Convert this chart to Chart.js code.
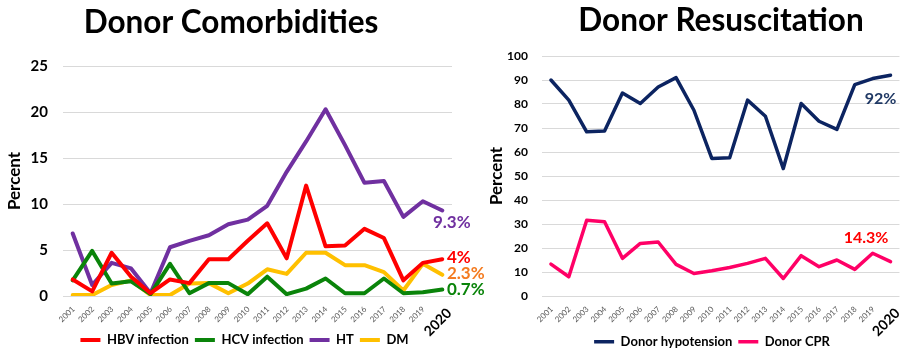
<!DOCTYPE html>
<html>
<head>
<meta charset="utf-8">
<script src="https://cdn.jsdelivr.net/npm/chart.js@4/dist/chart.umd.min.js"></script>
<style>
  html, body { margin: 0; padding: 0; background: #fff; }
  body { width: 912px; height: 350px; position: relative; overflow: hidden; }
  #comorb { position: absolute; left: 0; top: 0; }
  #resus { position: absolute; left: 470px; top: 0; }
</style>
</head>
<body>
<canvas id="comorb" width="495" height="350"></canvas>
<canvas id="resus" width="442" height="350"></canvas>
<script>
// Years on the horizontal axis (shared by both panels)
const years = ['2001','2002','2003','2004','2005','2006','2007','2008','2009','2010',
               '2011','2012','2013','2014','2015','2016','2017','2018','2019','2020'];

// Donor comorbidities, percent of donors per year
const hbvInfection = [1.8, 0.5, 4.7, 2.1, 0.3, 1.8, 1.4, 4.0, 4.0, 6.0, 7.9, 4.1, 12.0, 5.4, 5.5, 7.3, 6.3, 1.7, 3.6, 4];
const hcvInfection = [1.7, 4.9, 1.35, 1.6, 0.2, 3.5, 0.3, 1.4, 1.4, 0.2, 2.1, 0.2, 0.8, 1.9, 0.3, 0.3, 1.9, 0.3, 0.4, 0.7];
const hypertension = [6.8, 1.2, 3.6, 3.0, 0.3, 5.3, 6.0, 6.6, 7.8, 8.3, 9.8, 13.5, 16.8, 20.3, 16.4, 12.3, 12.5, 8.6, 10.3, 9.3];
const diabetes     = [0.1, 0.1, 1.2, 1.7, 0.1, 0.1, 1.35, 1.4, 0.3, 1.35, 2.9, 2.4, 4.7, 4.7, 3.35, 3.35, 2.6, 0.6, 3.5, 2.3];

// Donor resuscitation, percent of donors per year
const donorHypotension = [90, 81.6, 68.4, 68.8, 84.6, 80.2, 87.1, 91, 77.4, 57.3, 57.6, 81.6, 74.9, 53.1, 80.2, 72.8, 69.4, 88.1, 90.6, 92];
const donorCPR         = [13.3, 8.0, 31.6, 30.9, 15.7, 21.9, 22.5, 13.2, 9.4, 10.5, 11.9, 13.6, 15.7, 7.3, 16.8, 12.2, 15, 11.1, 17.8, 14.3];

// Axis tick settings
const comorbTicks = { min: 0, max: 25, step: 5 };
const resusTicks  = { min: 0, max: 100, step: 10 };

const FONT = 'Lato';
const LEGEND_SIZE = 13;

// Small helper plugin: panel heading, end-of-line value labels, legend placement
const panelExtras = {
  id: 'panelExtras',
  afterLayout(chart, args, opts) {
    const lg = chart.legend;
    if (!lg || opts.legendCenter == null) return;
    const dx = opts.legendCenter - (lg.left + lg.right) / 2;
    lg.left += dx; lg.right += dx;
    const pad = lg.options.labels.padding;
    const dy = opts.legendMiddle - (lg.top + pad + LEGEND_SIZE / 2);
    lg.top += dy;
    lg.bottom = chart.height;
  },
  afterDraw(chart, args, opts) {
    const ctx = chart.ctx;
    ctx.save();
    if (opts.heading) {
      ctx.font = `bold ${opts.heading.size}px ${FONT}`;
      ctx.fillStyle = '#000';
      ctx.textAlign = 'center';
      ctx.textBaseline = 'alphabetic';
      ctx.fillText(opts.heading.text, opts.heading.x, opts.heading.y);
    }
    (opts.endLabels || []).forEach(l => {
      const meta = chart.getDatasetMeta(l.ds);
      const data = chart.data.datasets[l.ds].data;
      const pt = meta.data[data.length - 1];
      ctx.font = `bold ${l.size}px ${FONT}`;
      ctx.fillStyle = l.color;
      ctx.textAlign = 'left';
      ctx.textBaseline = 'middle';
      ctx.fillText(data[data.length - 1] + '%', pt.x + l.dx, pt.y + l.dy);
    });
    ctx.restore();
  }
};

function xAxis() {
  const last = years.length - 1;
  const isLast = c => c.index === last;
  return {
    offset: true,
    grid: { display: false, drawTicks: false },
    border: { display: false },
    afterFit(scale) { scale.height = 44; },
    ticks: {
      autoSkip: false, minRotation: 45, maxRotation: 45, padding: 8.5, labelOffset: 0.7,
      // final year is emphasised: larger, bold, black
      font: c => isLast(c) ? { family: FONT, size: 14, weight: 'bold', lineHeight: 1.3 }
                           : { family: FONT, size: 8, lineHeight: 1.2 },
      color: c => isLast(c) ? '#000' : '#595959',
      // transparent backdrop keeps the larger label anchored at its tick
      showLabelBackdrop: c => isLast(c),
      backdropColor: 'rgba(0,0,0,0)',
      backdropPadding: 0
    }
  };
}

function yAxis(t, width, tickSize, tickPad, titlePad) {
  return {
    min: t.min, max: t.max,
    afterFit(scale) { scale.width = width; },
    grid: { color: '#d9d9d9', lineWidth: 1, drawTicks: false },
    border: { display: false },
    ticks: { stepSize: t.step, padding: tickPad, color: '#000', font: { family: FONT, size: tickSize, weight: 'bold' } },
    title: { display: true, text: 'Percent', color: '#000', padding: { top: titlePad, bottom: 0 },
             font: { family: FONT, size: 17, weight: 'bold' } }
  };
}

function legendOpts() {
  return {
    position: 'bottom',
    maxHeight: 10,
    labels: {
      usePointStyle: true, pointStyle: 'line', pointStyleWidth: 20,
      padding: 6, color: '#000',
      font: { family: FONT, size: LEGEND_SIZE, weight: 'bold' }
    }
  };
}

function line(label, data, color, width) {
  return {
    label, data,
    borderColor: color, backgroundColor: color,
    borderWidth: width, pointRadius: 0, pointHoverRadius: 0,
    tension: 0, borderJoinStyle: 'round', borderCapStyle: 'round', fill: false
  };
}

new Chart(document.getElementById('comorb'), {
  type: 'line',
  data: {
    labels: years,
    datasets: [
      line('HBV infection', hbvInfection, '#FF0000', 4),
      line('HCV infection', hcvInfection, '#0A840A', 4),
      line('HT', hypertension, '#7030A0', 4),
      line('DM', diabetes, '#FFC000', 4)
    ]
  },
  options: {
    responsive: false, animation: false,
    layout: { padding: { top: 66, right: 43, left: 0, bottom: 0 } },
    scales: { x: xAxis(), y: yAxis(comorbTicks, 63, 15, 15, 4) },
    plugins: {
      legend: legendOpts(),
      tooltip: { enabled: false },
      panelExtras: {
        legendCenter: 244.5, legendMiddle: 340,
        heading: { text: 'Donor Comorbidities', x: 231, y: 33, size: 31.5 },
        endLabels: [
          { ds: 2, dx: -9.3, dy: 12.3, color: '#7030A0', size: 17 },
          { ds: 0, dx: 4.7, dy: -1.7, color: '#FF0000', size: 17 },
          { ds: 3, dx: 4.7, dy: -1.3, color: '#F47B20', size: 17 },
          { ds: 1, dx: 4.7, dy: 0, color: '#0A840A', size: 17 }
        ]
      }
    }
  },
  plugins: [panelExtras]
});

new Chart(document.getElementById('resus'), {
  type: 'line',
  data: {
    labels: years,
    datasets: [
      line('Donor hypotension', donorHypotension, '#0C2461', 3.5),
      line('Donor CPR', donorCPR, '#FF0066', 3.5)
    ]
  },
  options: {
    responsive: false, animation: false,
    layout: { padding: { top: 56, right: 4, left: 0, bottom: 0 } },
    scales: { x: xAxis(), y: yAxis(resusTicks, 72, 12, 14, 16) },
    plugins: {
      legend: legendOpts(),
      tooltip: { enabled: false },
      panelExtras: {
        legendCenter: 242, legendMiddle: 341.7,
        heading: { text: 'Donor Resuscitation', x: 251, y: 31, size: 31.5 },
        endLabels: [
          { ds: 0, dx: -25.8, dy: 24, color: '#1F3864', size: 16 },
          { ds: 1, dx: -46.8, dy: -24, color: '#FF0000', size: 16 }
        ]
      }
    }
  },
  plugins: [panelExtras]
});
</script>
</body>
</html>
